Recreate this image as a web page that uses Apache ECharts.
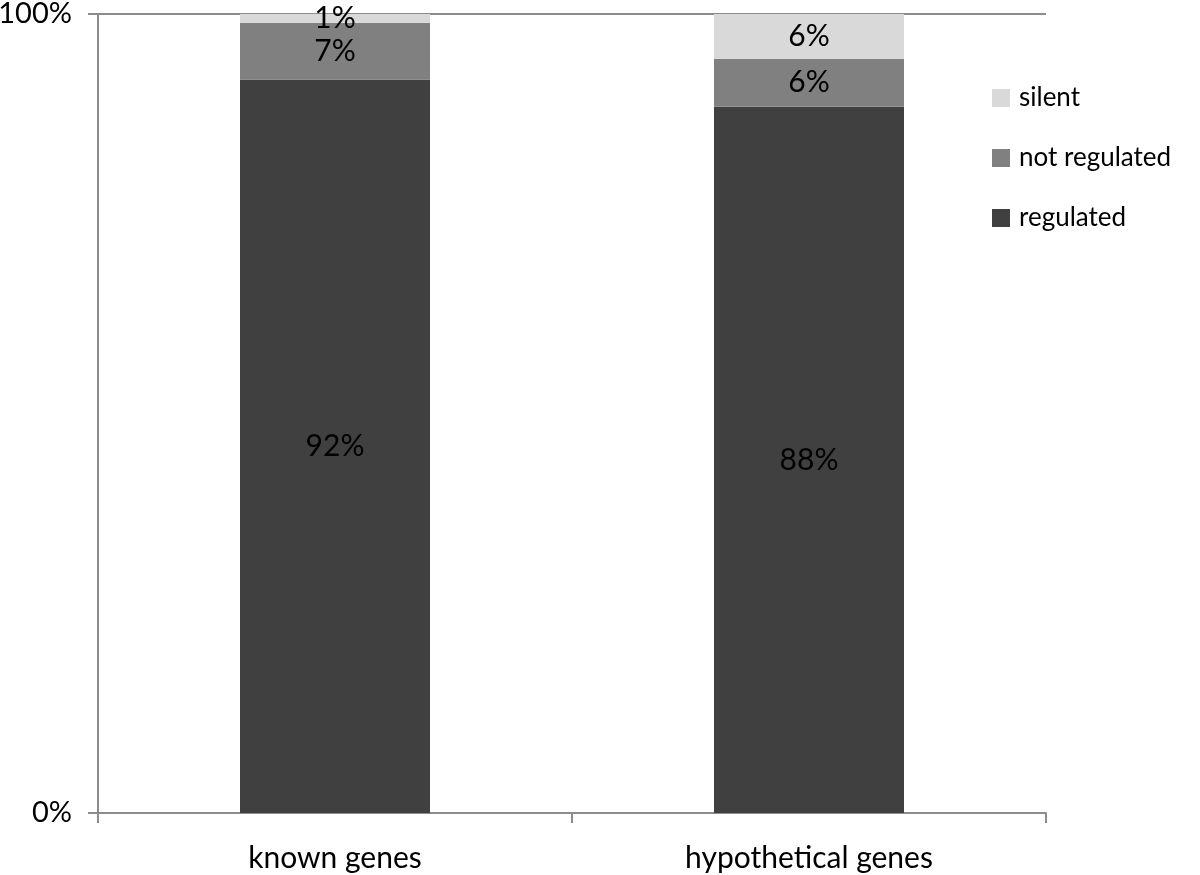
<!DOCTYPE html>
<html>
<head>
<meta charset="utf-8">
<script src="https://cdn.jsdelivr.net/npm/echarts@6/dist/echarts.min.js"></script>
<style>
    html, body { margin: 0; padding: 0; background: #fff; }
    #chart { width: 1200px; height: 875px; }
</style>
</head>
<body>
<div id="chart"></div>
<script>
// values (percent of genes)
var categories = ['known genes', 'hypothetical genes']
var regulated = [91.8, 88.4]
var notRegulated = [7.1, 6.0]
var silent = [1.1, 5.6]
var yTicks = [0, 100]

var chart = echarts.init(document.getElementById('chart'))
var font = 'Lato, "Open Sans", sans-serif'

function seriesOf(name, data, color) {
    return {
        name: name,
        type: 'bar',
        stack: 'total',
        barWidth: 190,
        data: data,
        itemStyle: { color: color },
        label: {
            show: true,
            position: 'inside',
            color: '#000',
            fontFamily: font,
            fontSize: 30,
            formatter: function(p) { return Math.round(p.value) + '%' }
        }
    }
}

chart.setOption({
    animation: false,
    textStyle: { fontFamily: font },
    grid: { left: 98, right: 154, top: 14, bottom: 62, outerBoundsMode: 'none', containLabel: false },
    legend: {
        orient: 'vertical',
        left: 987,
        top: 80,
        itemWidth: 18,
        itemHeight: 18,
        itemGap: 34,
        icon: 'rect',
        data: ['silent', 'not regulated', 'regulated'],
        textStyle: { fontFamily: font, fontSize: 26, color: '#000', padding: [0, 0, 0, 4] }
    },
    xAxis: {
        type: 'category',
        data: categories,
        axisLine: { lineStyle: { color: '#8c8c8c', width: 2 } },
        axisTick: { show: true, alignWithLabel: false, length: 10, lineStyle: { color: '#8c8c8c', width: 2 } },
        axisLabel: { color: '#000', fontSize: 30, fontFamily: font, margin: 30 }
    },
    yAxis: {
        type: 'value',
        min: yTicks[0],
        max: yTicks[1],
        interval: 100,
        axisLine: { show: true, lineStyle: { color: '#8c8c8c', width: 2 } },
        axisTick: { show: true, length: 10, lineStyle: { color: '#8c8c8c', width: 2 } },
        splitLine: { show: true, lineStyle: { color: '#8c8c8c', width: 2 } },
        axisLabel: { color: '#000', fontSize: 29, fontFamily: font, margin: 26, formatter: '{value}%' }
    },
    series: [
        seriesOf('regulated', regulated, '#404040'),
        seriesOf('not regulated', notRegulated, '#808080'),
        seriesOf('silent', silent, '#d9d9d9')
    ]
})
</script>
</body>
</html>
